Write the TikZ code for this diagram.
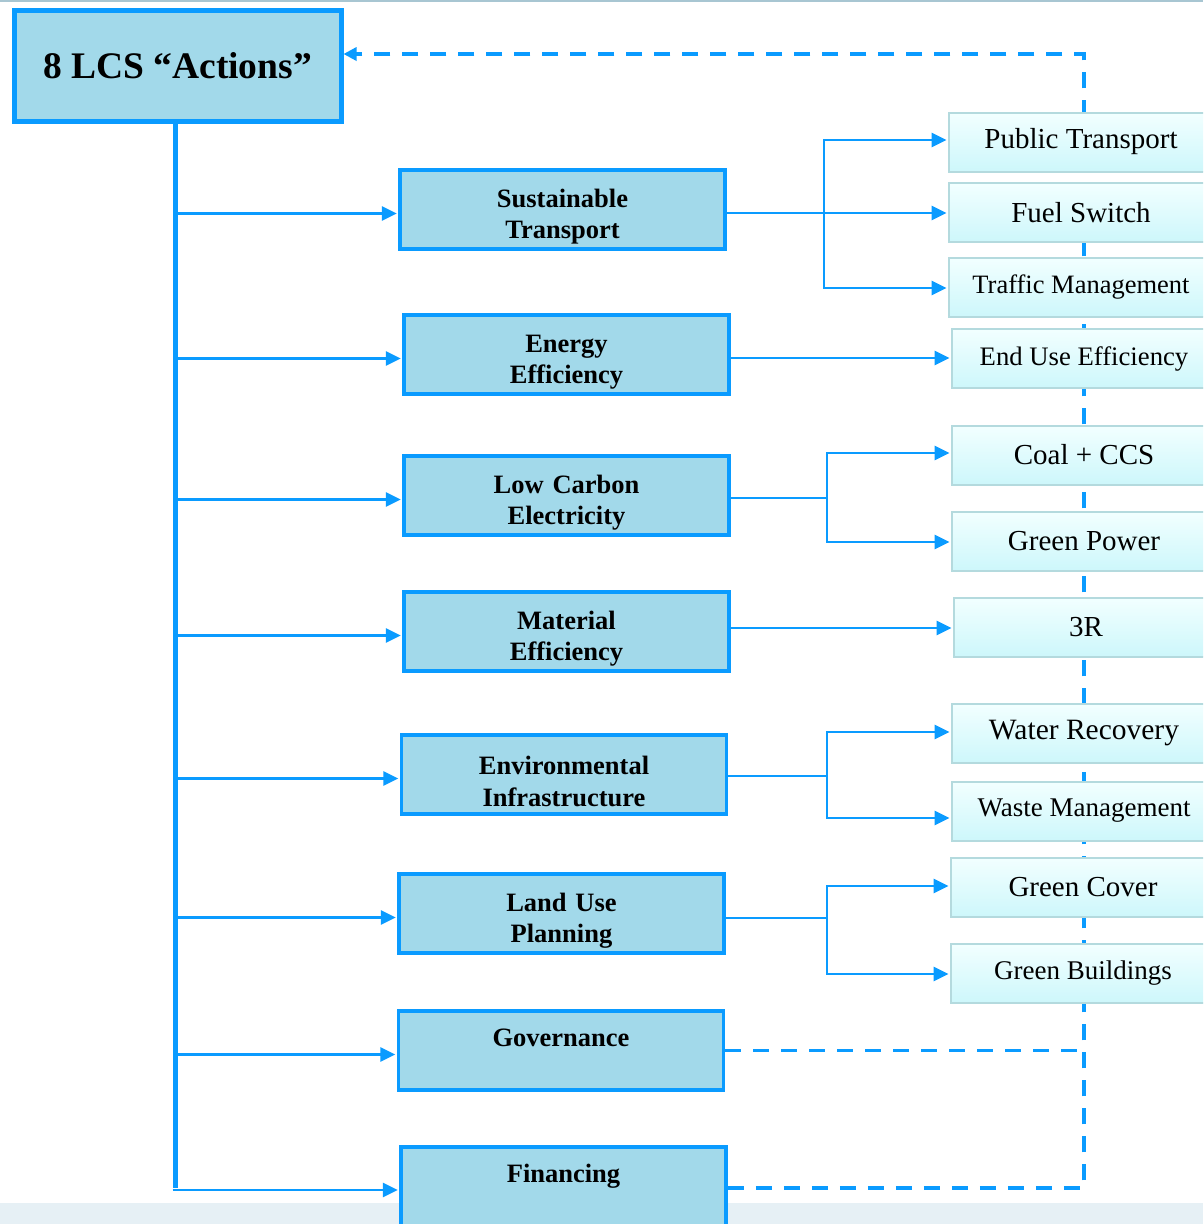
\documentclass[tikz,border=0pt]{standalone}
\usepackage{fontspec}
\setmainfont{Liberation Serif}
\usetikzlibrary{arrows.meta,calc}
\definecolor{lcsblue}{RGB}{10,155,255}
\definecolor{midfill}{RGB}{162,217,234}
\definecolor{rtop}{RGB}{242,255,255}
\definecolor{rbot}{RGB}{205,247,251}
\definecolor{rborder}{RGB}{180,218,222}
\definecolor{bandcol}{RGB}{230,240,245}
\definecolor{toplinecol}{RGB}{168,198,210}
\tikzset{
  midbox/.style={draw=lcsblue, line width=3.5pt, fill=midfill, minimum width=325pt, minimum height=79pt,
    inner sep=0pt, text width=320pt, align=center, font=\fontsize{26.5}{31.5}\selectfont\bfseries},
  rbox/.style={draw=rborder, line width=2pt, top color=rtop, bottom color=rbot, minimum width=264pt,
    minimum height=59pt, inner sep=0pt, anchor=west},
  conn/.style={draw=lcsblue, line width=2.8pt, -{Triangle[length=15pt,width=14pt]}, shorten >=1.5pt},
  plain/.style={draw=lcsblue, line width=2.8pt},
  trunk/.style={draw=lcsblue, line width=5pt},
  dashline/.style={draw=lcsblue, line width=3.2pt, dash pattern=on 16pt off 12pt},
}
\newcommand{\lcsdown}{\rule{0pt}{32.5pt}}
\begin{document}
\begin{tikzpicture}[x=1pt,y=-1pt]
\clip (0,0) rectangle (1203,1224);
\fill[white] (0,0) rectangle (1203,1224);
\fill[bandcol] (0,1203) rectangle (1203,1224);
\draw[toplinecol, line width=2pt] (0,0.5) -- (1203,0.5);

% main box
\node[draw=lcsblue, line width=5pt, fill=midfill, minimum width=327pt, minimum height=111pt, inner sep=0pt,
  font=\fontsize{37.5}{44}\selectfont\bfseries] (main) at (177.5,65.5) {8 LCS “Actions”};

% middle boxes
\node[midbox] (st)  at (562.5,209.5)  {\lcsdown Sustainable\\Transport};
\node[midbox] (ee)  at (566.5,354.5)  {\lcsdown Energy\\Efficiency};
\node[midbox] (lce) at (566.5,495.5)  {\lcsdown Low Carbon\\Electricity};
\node[midbox] (me)  at (566.5,631.5)  {\lcsdown Material\\Efficiency};
\node[midbox] (ei)  at (564,774.5)    {\lcsdown Environmental\\Infrastructure};
\node[midbox] (lup) at (561.5,913.5)  {\lcsdown Land Use\\Planning};
\node[midbox] (gov) at (561,1050.5)   {\lcsdown Governance\\\strut};
\node[midbox] (fin) at (563.5,1186.5) {\lcsdown Financing\\\strut};

% dashed feedback line (behind right boxes)
\coordinate (dbot) at (1084,1188);
\coordinate (dtop) at (1084,54);
\draw[dashline] (gov.east) -- (gov.east -| dbot);
\draw[dashline, -{Triangle[length=13pt,width=13pt]}] ($(fin.east)+(0,1.5)$) -- (dbot) -- (dtop) -- (main.east |- dtop);

% right boxes
\node[rbox, font=\fontsize{29}{34}\selectfont] (pt)   at (948,142)   {Public Transport};
\node[rbox, font=\fontsize{29}{34}\selectfont] (fs)   at (948,212.5) {Fuel Switch};
\node[rbox, font=\fontsize{26.5}{31}\selectfont] (tm) at (948,287)   {Traffic Management};
\node[rbox, font=\fontsize{26.7}{31}\selectfont] (eue) at (951,358.5) {End Use Efficiency};
\node[rbox, font=\fontsize{29}{34}\selectfont] (coal) at (951,455)   {Coal + CCS};
\node[rbox, font=\fontsize{29}{34}\selectfont] (gp)   at (951,541)   {Green Power};
\node[rbox, font=\fontsize{29}{34}\selectfont] (r3)   at (953,627)   {3R};
\node[rbox, font=\fontsize{29.5}{34}\selectfont] (wr) at (951,733.5) {Water Recovery};
\node[rbox, font=\fontsize{27}{32}\selectfont] (wm)   at (951,811)   {Waste Management};
\node[rbox, font=\fontsize{29}{34}\selectfont] (gc)   at (950,887.5) {Green Cover};
\node[rbox, font=\fontsize{27}{32}\selectfont] (gb)   at (950,973.5) {Green Buildings};

% trunk
\coordinate (tb) at (175,1190);
\draw[trunk] (tb |- main.south) -- ($(tb)+(0,-2.5)$);
\draw[plain] ($(tb)+(-2.5,0)$) -- (tb);
\draw[conn] (tb) -- (fin.west |- tb);
\foreach \n in {st,ee,lce,me,ei,lup,gov}{
  \draw[conn] ($(tb |- \n.west)+(0,4)$) -- ($(\n.west)+(0,4)$);
}

% right connectors
\coordinate (s1) at (824,213);
\draw[conn] ($(st.east)+(0,3.5)$) -- (s1) -- (s1 -| fs.west);
\draw[conn] (s1) |- ($(pt.west)+(0,-2)$);
\draw[conn] (s1) |- ($(tm.west)+(0,1)$);

\coordinate (e1) at (800,358);
\draw[conn] (ee.east |- e1) -- (e1 -| eue.west);

\coordinate (s2) at (827,498);
\draw[plain] (lce.east |- s2) -- (s2);
\draw[conn] (s2) |- ($(coal.west)+(0,-2)$);
\draw[conn] (s2) |- ($(gp.west)+(0,1)$);

\coordinate (m1) at (800,628);
\draw[conn] (me.east |- m1) -- (m1 -| r3.west);

\coordinate (s3) at (827,776);
\draw[plain] (ei.east |- s3) -- (s3);
\draw[conn] (s3) |- ($(wr.west)+(0,-1.5)$);
\draw[conn] (s3) |- ($(wm.west)+(0,7)$);

\coordinate (s4) at (827,918);
\draw[plain] (lup.east |- s4) -- (s4);
\draw[conn] (s4) |- ($(gc.west)+(0,-1.5)$);
\draw[conn] (s4) |- ($(gb.west)+(0,0.5)$);
\end{tikzpicture}
\end{document}
